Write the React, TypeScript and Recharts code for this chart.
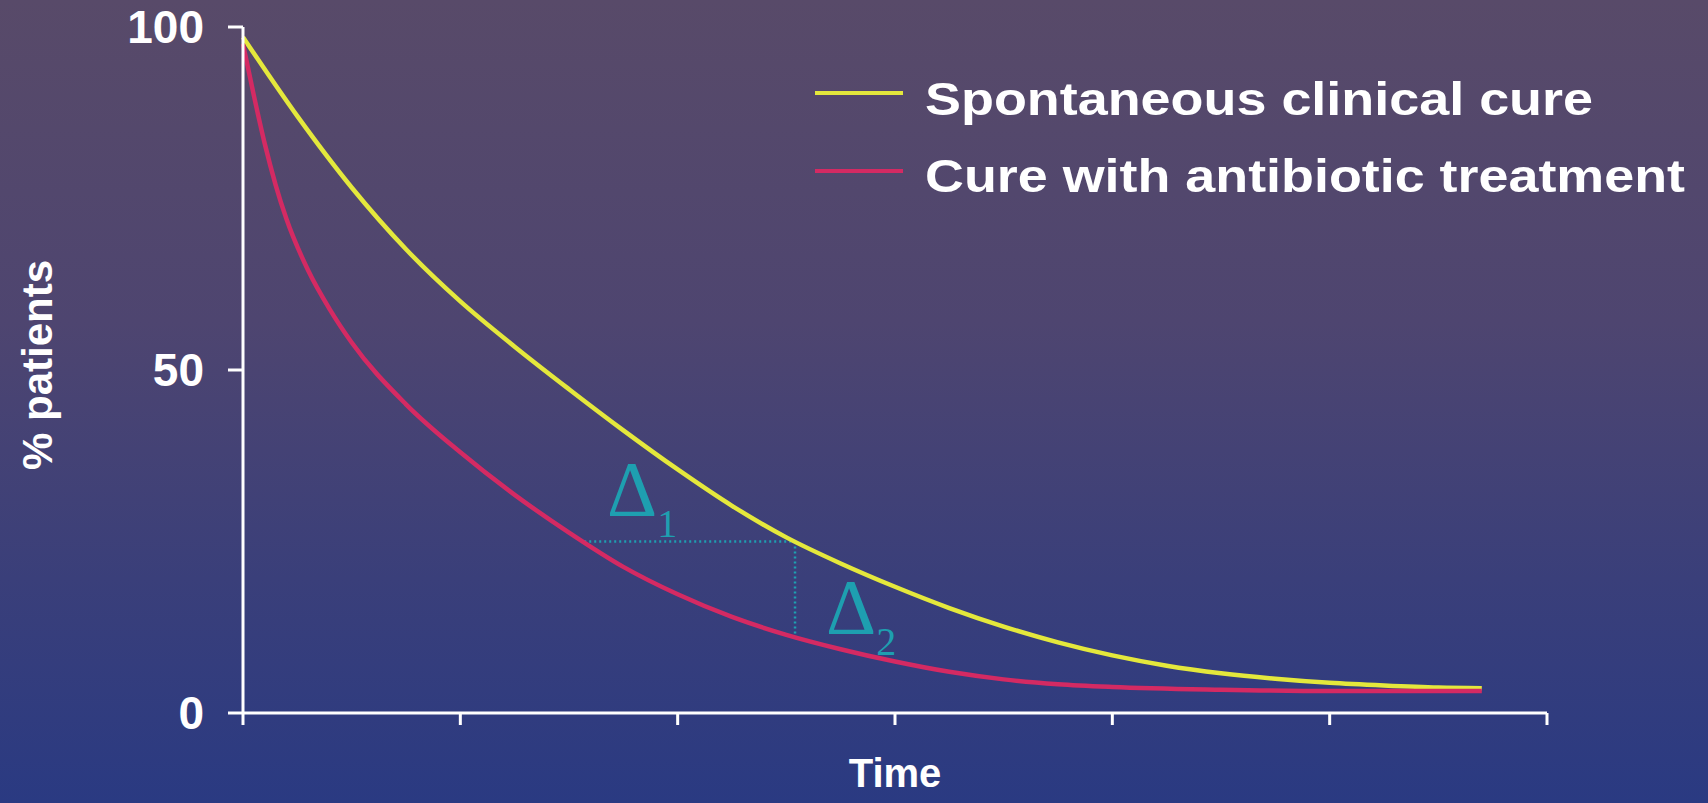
import { LineChart, Line, XAxis, YAxis, ReferenceLine, ReferenceDot, Legend, Label } from 'recharts';

const seriesNames = ['Spontaneous clinical cure', 'Cure with antibiotic treatment'];

const spontaneousTimes = [0, 0.25, 0.5, 0.75, 1.0, 1.25, 1.5, 1.75, 2.0, 2.25, 2.5, 2.75, 3.0, 3.25, 3.5, 3.75, 4.0, 4.25, 4.5, 4.75, 5.0, 5.25, 5.5, 5.7];
const spontaneousValues = [98.5, 87.0, 76.6, 67.6, 60.0, 53.4, 47.2, 41.2, 35.5, 30.2, 25.6, 21.8, 18.4, 15.3, 12.6, 10.3, 8.4, 6.9, 5.8, 5.0, 4.4, 4.0, 3.7, 3.6];

const antibioticTimes = [0, 0.05, 0.1, 0.15, 0.2, 0.3, 0.4, 0.5, 0.75, 1.0, 1.25, 1.5, 1.75, 2.0, 2.25, 2.5, 2.75, 3.0, 3.25, 3.5, 3.75, 4.0, 4.5, 5.0, 5.7];
const antibioticValues = [97.5, 90.0, 83.0, 77.0, 72.0, 64.5, 58.8, 54.0, 45.0, 38.0, 31.8, 26.3, 21.3, 17.3, 14.0, 11.4, 9.3, 7.5, 6.0, 4.9, 4.2, 3.8, 3.4, 3.2, 3.2];

const xTicks = [0, 1, 2, 3, 4, 5, 6];
const yTicks = [0, 50, 100];

// the two deltas drawn between the curves
const deltaLevel = 25.0;
const deltaStart = 1.57;
const deltaEnd = 2.54;
const deltaFloor = 11.1;

const spontaneousData = spontaneousTimes.map((t, i) => ({ t, v: spontaneousValues[i] }));
const antibioticData = antibioticTimes.map((t, i) => ({ t, v: antibioticValues[i] }));

const font = '"Liberation Sans", Arial, sans-serif';
const teal = '#1e9fb0';
const legendTextWidths = [668, 760];

const LegendBox = ({ payload }: any) => {
  const items = [...(payload || [])].sort(
    (a: any, b: any) => seriesNames.indexOf(a.value) - seriesNames.indexOf(b.value)
  );
  return (
    <svg width={900} height={160}>
      {items.map((entry: any, i: number) => (
        <g key={entry.value}>
          <line x1={15} x2={103} y1={33 + 78 * i} y2={33 + 78 * i} stroke={entry.color} strokeWidth={4} />
          <text
            x={125}
            y={55 + 77 * i}
            fill="#fff"
            fontSize={46}
            fontWeight={700}
            fontFamily={font}
            textLength={legendTextWidths[i]}
            lengthAdjust="spacingAndGlyphs"
          >
            {entry.value}
          </text>
        </g>
      ))}
    </svg>
  );
};

const DeltaLabel = ({ viewBox, sub }: any) => (
  <text x={viewBox.x} y={viewBox.y} fill={teal} fontFamily='"Liberation Serif", serif' fontSize={78}>
    Δ
    <tspan fontSize={40} dy={22}>{sub}</tspan>
  </text>
);

const YTitle = ({ viewBox }: any) => {
  const cx = viewBox.x + 37;
  const cy = viewBox.y + viewBox.height / 2 - 5;
  return (
    <text
      x={cx}
      y={cy}
      transform={`rotate(-90, ${cx}, ${cy})`}
      textAnchor="middle"
      dominantBaseline="central"
      fill="#fff"
      fontSize={42}
      fontWeight={700}
      fontFamily={font}
    >
      % patients
    </text>
  );
};

const XTitle = ({ viewBox }: any) => (
  <text
    x={viewBox.x + viewBox.width / 2}
    y={viewBox.y + 74}
    textAnchor="middle"
    fill="#fff"
    fontSize={40}
    fontWeight={700}
    fontFamily={font}
  >
    Time
  </text>
);

export default function App() {
  return (
    <div
      style={{
        position: 'absolute',
        left: 0,
        top: 0,
        width: 1708,
        height: 803,
        background: 'linear-gradient(180deg, #584a69 0%, #4e4570 40%, #3a3f7a 72%, #2a3a82 100%)',
        fontFamily: font,
      }}
    >
      <LineChart width={1708} height={803} margin={{ top: 27, right: 161, bottom: 0, left: 0 }}>
        <XAxis
          dataKey="t"
          type="number"
          domain={[0, 6]}
          ticks={xTicks}
          tickFormatter={() => ''}
          tickSize={12}
          height={90}
          axisLine={{ stroke: '#fff', strokeWidth: 3 }}
          tickLine={{ stroke: '#fff', strokeWidth: 3 }}
        >
          <Label content={<XTitle />} />
        </XAxis>
        <YAxis
          type="number"
          domain={[0, 100]}
          ticks={yTicks}
          width={243}
          tickSize={15}
          tickMargin={24}
          axisLine={{ stroke: '#fff', strokeWidth: 3 }}
          tickLine={{ stroke: '#fff', strokeWidth: 3 }}
          tick={{ fill: '#fff', fontSize: 46, fontWeight: 700, fontFamily: font }}
        >
          <Label content={<YTitle />} />
        </YAxis>
        <Legend
          layout="vertical"
          align="center"
          verticalAlign="middle"
          content={<LegendBox />}
          wrapperStyle={{ left: 800, top: 60, width: 900, height: 160 }}
        />
        <ReferenceLine
          segment={[{ x: deltaStart, y: deltaLevel }, { x: deltaEnd, y: deltaLevel }]}
          stroke={teal}
          strokeWidth={2.5}
          strokeDasharray="2 3"
        />
        <ReferenceLine
          segment={[{ x: deltaEnd, y: deltaLevel }, { x: deltaEnd, y: deltaFloor }]}
          stroke={teal}
          strokeWidth={2.5}
          strokeDasharray="2 3"
        />
        <ReferenceDot x={1.675} y={28.9} r={0} stroke="none" fill="none" label={<DeltaLabel sub="1" />} />
        <ReferenceDot x={2.683} y={11.7} r={0} stroke="none" fill="none" label={<DeltaLabel sub="2" />} />
        <Line
          data={spontaneousData}
          type="monotone"
          dataKey="v"
          name={seriesNames[0]}
          stroke="#e4e83c"
          strokeWidth={4.5}
          dot={false}
          isAnimationActive={false}
        />
        <Line
          data={antibioticData}
          type="monotone"
          dataKey="v"
          name={seriesNames[1]}
          stroke="#d42a63"
          strokeWidth={4.5}
          dot={false}
          isAnimationActive={false}
        />
      </LineChart>
    </div>
  );
}
